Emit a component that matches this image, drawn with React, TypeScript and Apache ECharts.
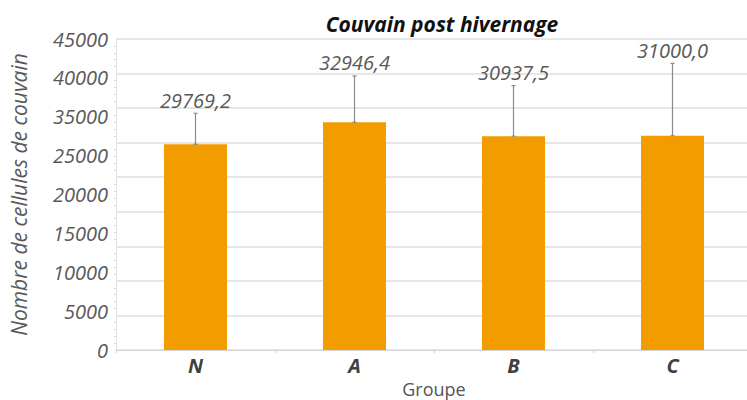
import React, { useEffect, useRef } from "react";
import * as echarts from "echarts";

const categories = ["N", "A", "B", "C"];
const means = [29769.2, 32946.4, 30937.5, 31000.0];
const errorTop = [34250, 39650, 38250, 41480];
const yTickLabels = ["0", "5000", "10000", "15000", "20000", "25000", "35000", "40000", "45000"];

const FONT = "'Open Sans', sans-serif";

export default function App() {
  const ref = useRef<HTMLDivElement>(null);
  useEffect(() => {
    if (!ref.current) return;
    const chart = echarts.init(ref.current, undefined, { renderer: "svg" });
    const option: any = {
      animation: false,
      backgroundColor: "#ffffff",
      title: {
        text: "Couvain post hivernage",
        left: 437,
        top: 8,
        textAlign: "center",
        textStyle: {
          fontFamily: FONT,
          fontStyle: "italic",
          fontWeight: "bold",
          fontSize: 21,
          color: "#111",
        },
      },
      grid: {
        left: 116,
        top: 39,
        width: 636,
        height: 311,
        containLabel: false,
        outerBoundsMode: "none",
      },
      xAxis: [
        {
          type: "category",
          data: categories,
          axisLine: { show: true, lineStyle: { color: "#d6d6d6", width: 1 } },
          axisTick: { show: true, alignWithLabel: false, length: 3, lineStyle: { color: "#d0d0d0" } },
          axisLabel: {
            fontFamily: FONT,
            fontStyle: "italic",
            fontWeight: "bold",
            fontSize: 20,
            color: "#404040",
            margin: 5,
          },
          name: "Groupe",
          nameLocation: "middle",
          nameGap: 25,
          nameTextStyle: {
            fontFamily: FONT,
            fontSize: 18,
            lineHeight: 18,
            color: "#555",
          },
        },
      ],
      yAxis: [
        {
          type: "value",
          min: 0,
          max: 45000,
          interval: 5000,
          axisLabel: { show: false },
          axisLine: { show: true, lineStyle: { color: "#e2e2e2", width: 1 } },
          axisTick: { show: false },
          minorTick: { show: true, splitNumber: 5, length: 2, lineStyle: { color: "#d8d8d8" } },
          splitLine: { show: true, lineStyle: { color: "#dedede", width: 1.5 } },
          name: "Nombre de cellules de couvain",
          nameLocation: "middle",
          nameGap: 87,
          nameTextStyle: {
            fontFamily: FONT,
            fontStyle: "italic",
            fontSize: 21,
            color: "#595959",
          },
        },
        {
          type: "category",
          position: "left",
          data: yTickLabels,
          boundaryGap: false,
          axisLine: { show: false },
          axisTick: { show: false },
          splitLine: { show: false },
          axisLabel: {
            fontFamily: FONT,
            fontStyle: "italic",
            fontSize: 20,
            color: "#595959",
            margin: 8,
          },
        },
      ],
      series: [
        {
          type: "bar",
          data: means,
          barWidth: 63,
          itemStyle: { color: "#F39C00" },
          xAxisIndex: 0,
          yAxisIndex: 0,
          z: 2,
        },
        {
          type: "custom",
          xAxisIndex: 0,
          yAxisIndex: 0,
          z: 3,
          data: categories.map((c, i) => [i, means[i], errorTop[i]]),
          renderItem: (params: any, api: any) => {
            const i = api.value(0);
            const lo = api.coord([i, api.value(1)]);
            const hi = api.coord([i, api.value(2)]);
            const label = means[params.dataIndex].toFixed(1).replace(".", ",");
            return {
              type: "group",
              children: [
                {
                  type: "line",
                  shape: { x1: hi[0], y1: lo[1], x2: hi[0], y2: hi[1] },
                  style: { stroke: "#8a8a8a", lineWidth: 1.2 },
                },
                {
                  type: "line",
                  shape: { x1: hi[0] - 2, y1: hi[1], x2: hi[0] + 2, y2: hi[1] },
                  style: { stroke: "#8a8a8a", lineWidth: 1.2 },
                },
                {
                  type: "line",
                  shape: { x1: hi[0] - 2, y1: lo[1], x2: hi[0] + 2, y2: lo[1] },
                  style: { stroke: "#8a8a8a", lineWidth: 1.2 },
                },
                {
                  type: "text",
                  style: {
                    x: hi[0],
                    y: hi[1] - 3,
                    text: label,
                    align: "center",
                    verticalAlign: "bottom",
                    fontFamily: FONT,
                    fontStyle: "italic",
                    fontSize: 20,
                    fill: "#595959",
                  },
                },
              ],
            };
          },
        },
      ],
    };
    chart.setOption(option);
    return () => chart.dispose();
  }, []);
  return (
    <div
      ref={ref}
      style={{ position: "absolute", left: 0, top: 0, width: 747, height: 400 }}
    />
  );
}
